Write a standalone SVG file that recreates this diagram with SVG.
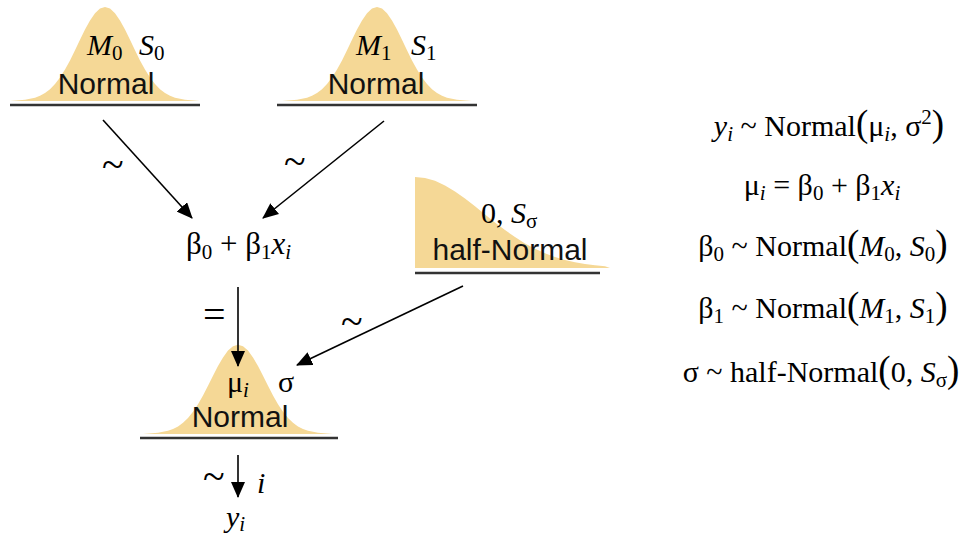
<svg xmlns="http://www.w3.org/2000/svg" width="963" height="541" viewBox="0 0 963 541">
<style>
.tr { font-family: "Liberation Serif", "Times New Roman", serif; font-size: 30px; fill: #000; }
.it { font-style: italic; }
.sub { font-size: 21px; }
.par { font-size: 37px; }
.mid { text-anchor: middle; }
.ar { font-family: "Liberation Sans", Arial, sans-serif; font-size: 30px; fill: #111; text-anchor: middle; }
.sym { font-family: "Liberation Serif", "Times New Roman", serif; font-size: 40px; fill: #000; }
.fill { fill: #F5D896; }
.base { stroke: #333; stroke-width: 2.5; }
.conn line { stroke: #000; stroke-width: 1.6; marker-end: url(#ah); }
</style>
<defs>
<marker id="ah" markerUnits="userSpaceOnUse" markerWidth="16" markerHeight="14" refX="15" refY="7" orient="auto">
<path d="M0,0 L16,7 L0,14 Z" fill="#000"/>
</marker>
<path id="bell" d="M-95,0 L-80,-1.2 L-70,-3.3 L-65,-5.2 L-60,-8 L-55,-11.8 L-50,-16.9 L-45,-23.4 L-40,-31.4 L-35,-40.6 L-30,-50.7 L-25,-61.2 L-20,-71.5 L-15,-80.6 L-10,-87.8 L-5,-92.4 L0,-94 L5,-92.4 L10,-87.8 L15,-80.6 L20,-71.5 L25,-61.2 L30,-50.7 L35,-40.6 L40,-31.4 L45,-23.4 L50,-16.9 L55,-11.8 L60,-8 L65,-5.2 L70,-3.3 L80,-1.2 L95,0 Z"/>
</defs>
<rect width="963" height="541" fill="#fff"/>

<g id="prior-b0">
<use href="#bell" class="fill" transform="translate(105,101)"/>
<line class="base" x1="10" y1="105" x2="200" y2="105"/>
<text class="tr" x="87" y="55"><tspan class="it">M</tspan><tspan class="sub" dy="5">0</tspan><tspan class="it" x="139" dy="-5">S</tspan><tspan class="sub" dy="5">0</tspan></text>
<text class="ar" x="106" y="94">Normal</text>
</g>

<g id="prior-b1">
<use href="#bell" class="fill" transform="translate(377,101)"/>
<line class="base" x1="277" y1="105" x2="477" y2="105"/>
<text class="tr" x="356" y="55"><tspan class="it">M</tspan><tspan class="sub" dy="5">1</tspan><tspan class="it" x="411" dy="-5">S</tspan><tspan class="sub" dy="5">1</tspan></text>
<text class="ar" x="376" y="94">Normal</text>
</g>

<g id="prior-sigma">
<path class="fill" d="M415,268 L415,177 L425,178 L435,180.8 L445,185.4 L455,191.5 L465,198.5 L475,206.3 L485,214.4 L495,222.4 L505,230.1 L515,237.1 L525,243.4 L535,248.8 L545,253.3 L555,257.1 L565,260 L575,262.3 L585,264 L595,265.3 L605,266.2 L610,268 Z"/>
<line class="base" x1="415" y1="273" x2="600" y2="273"/>
<text class="tr" x="481" y="223">0, <tspan class="it">S</tspan><tspan class="sub" dy="5">σ</tspan></text>
<text class="ar" x="510" y="260">half-Normal</text>
</g>

<g id="linear-predictor">
<text class="tr" x="186" y="254" style="font-size:31px">β<tspan class="sub" dy="5">0</tspan><tspan dy="-5"> + β</tspan><tspan class="sub" dy="5">1</tspan><tspan class="it" dy="-5">x</tspan><tspan class="sub it" dy="5">i</tspan></text>
</g>

<g id="likelihood">
<use href="#bell" class="fill" transform="translate(238,434) scale(1,0.95)"/>
<line class="base" x1="140" y1="438" x2="338" y2="438"/>
<text class="tr" x="227" y="392">μ<tspan class="sub it" dy="5">i</tspan></text>
<text class="tr" x="278" y="392">σ</text>
<text class="ar" x="240" y="427">Normal</text>
</g>

<g id="data">
<text class="tr" x="226" y="527"><tspan class="it">y</tspan><tspan class="sub it" dy="4">i</tspan></text>
</g>

<g id="connectors" class="conn">
<line x1="103" y1="120" x2="192" y2="218"/>
<line x1="384" y1="121" x2="263" y2="218"/>
<line x1="238" y1="287" x2="238" y2="366"/>
<line x1="463" y1="286" x2="297" y2="365"/>
<line x1="238" y1="455" x2="238" y2="497"/>
<text class="sym" x="102" y="178">~</text>
<text class="sym" x="284" y="175">~</text>
<text class="sym" x="203" y="328">=</text>
<text class="sym" x="341" y="335">~</text>
<text class="sym" x="203" y="490">~</text>
<text class="tr it" x="257" y="493">i</text>
</g>

<g id="equations">
<text class="tr mid" x="829" y="136"><tspan class="it">y</tspan><tspan class="sub it" dy="5">i</tspan><tspan dy="-5"> ~ Normal</tspan><tspan class="par">(</tspan>μ<tspan class="sub it" dy="5">i</tspan><tspan dy="-5">, σ</tspan><tspan class="sub" dy="-12">2</tspan><tspan class="par" dy="12">)</tspan></text>
<text class="tr mid" x="822" y="195">μ<tspan class="sub it" dy="5">i</tspan><tspan dy="-5"> = β</tspan><tspan class="sub" dy="5">0</tspan><tspan dy="-5"> + β</tspan><tspan class="sub" dy="5">1</tspan><tspan class="it" dy="-5">x</tspan><tspan class="sub it" dy="5">i</tspan></text>
<text class="tr mid" x="823" y="256">β<tspan class="sub" dy="5">0</tspan><tspan dy="-5"> ~ Normal</tspan><tspan class="par">(</tspan><tspan class="it">M</tspan><tspan class="sub" dy="5">0</tspan><tspan dy="-5">, </tspan><tspan class="it">S</tspan><tspan class="sub" dy="5">0</tspan><tspan class="par" dy="-5">)</tspan></text>
<text class="tr mid" x="823" y="318">β<tspan class="sub" dy="5">1</tspan><tspan dy="-5"> ~ Normal</tspan><tspan class="par">(</tspan><tspan class="it">M</tspan><tspan class="sub" dy="5">1</tspan><tspan dy="-5">, </tspan><tspan class="it">S</tspan><tspan class="sub" dy="5">1</tspan><tspan class="par" dy="-5">)</tspan></text>
<text class="tr mid" x="821" y="382">σ ~ half-Normal<tspan class="par">(</tspan>0, <tspan class="it">S</tspan><tspan class="sub" dy="5">σ</tspan><tspan class="par" dy="-5">)</tspan></text>
</g>
</svg>
